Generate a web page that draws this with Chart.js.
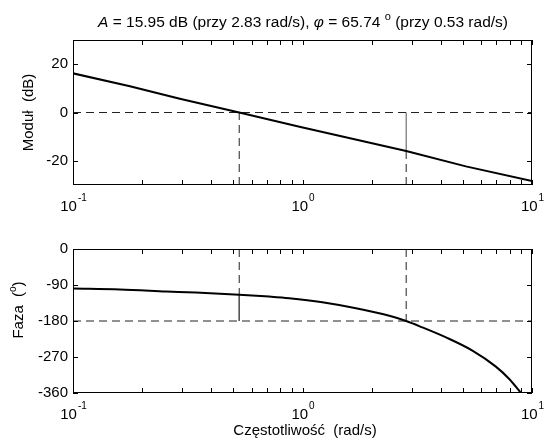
<!DOCTYPE html>
<html>
<head>
<meta charset="utf-8">
<script src="https://cdn.jsdelivr.net/npm/chart.js@4.4.1/dist/chart.umd.min.js"></script>
<style>
body { margin: 0; background: #fff; width: 545px; height: 446px; overflow: hidden; }
canvas { position: absolute; left: 0; }
#magChart { top: 0; }
#phaseChart { top: 225px; }
</style>
</head>
<body>
<canvas id="magChart" width="545" height="225"></canvas>
<canvas id="phaseChart" width="545" height="221"></canvas>
<script>
// values
const freqMag = [0.1, 0.177, 0.292, 0.53, 0.97, 2.83, 5.15, 10];
const magDb = [16.2, 10.9, 5.7, 0, -5.9, -15.95, -22.3, -28.4];

const freqPhase = [0.1, 0.16, 0.255, 0.343, 0.53, 0.716, 0.875, 1.22, 1.71, 2.39, 2.83, 3.33, 4.22, 5.5, 6.96, 7.96, 8.95];
const phaseDeg = [-99, -101, -106, -109, -114.26, -119, -123, -133, -148, -167, -180, -196, -221, -254, -294, -325, -360];

const gmDb = 15.95, gmFreq = 2.83;   // zapas modułu
const pmDeg = 65.74, pmFreq = 0.53;  // zapas fazy

const xDecades = [0.1, 1, 10];
const xExponents = ['-1', '0', '1'];
const magTicks = [-20, 0, 20];
const phaseTicks = [-360, -270, -180, -90, 0];

const FONT = '"Liberation Sans", Arial, sans-serif';
const dash = [8, 5];

const pts = (xs, ys) => xs.map((x, i) => ({ x: x, y: ys[i] }));

// box, inward ticks, x labels with superscript exponents
function frameAndTicks(labelY) {
  return {
    id: 'frameAndTicks',
    afterDraw(chart) {
      const ctx = chart.ctx, a = chart.chartArea;
      const xs = chart.scales.x, ys = chart.scales.y;
      ctx.save();
      ctx.strokeStyle = '#000';
      ctx.lineWidth = 1;
      ctx.strokeRect(Math.round(a.left) + 0.5, Math.round(a.top) + 0.5,
        Math.round(a.right - a.left) - 1, Math.round(a.bottom - a.top) - 1);
      ctx.beginPath();
      for (let d = 0.1; d < 10; d *= 10) {
        for (let m = 1; m <= 10; m++) {
          const px = Math.round(xs.getPixelForValue(d * m)) + 0.5;
          ctx.moveTo(px, a.bottom); ctx.lineTo(px, a.bottom - 5);
          ctx.moveTo(px, a.top); ctx.lineTo(px, a.top + 5);
        }
      }
      ys.ticks.forEach(t => {
        const py = Math.round(ys.getPixelForValue(t.value)) + 0.5;
        ctx.moveTo(a.left, py); ctx.lineTo(a.left + 5, py);
        ctx.moveTo(a.right, py); ctx.lineTo(a.right - 5, py);
      });
      ctx.stroke();

      ctx.fillStyle = '#000';
      ctx.textBaseline = 'alphabetic';
      ctx.textAlign = 'left';
      xDecades.forEach((v, i) => {
        const px = xs.getPixelForValue(v);
        ctx.font = '15px ' + FONT;
        const w1 = ctx.measureText('10').width;
        ctx.font = '10px ' + FONT;
        const w2 = ctx.measureText(xExponents[i]).width;
        const x0 = px - (w1 + w2) / 2;
        ctx.font = '15px ' + FONT;
        ctx.fillText('10', x0, labelY);
        ctx.font = '10px ' + FONT;
        ctx.fillText(xExponents[i], x0 + w1 + 1, labelY - 10);
      });
      ctx.restore();
    }
  };
}

function drawParts(ctx, parts, cx, y) {
  let total = 0;
  parts.forEach(p => { ctx.font = p.font; total += ctx.measureText(p.t).width; });
  let x = cx - total / 2;
  parts.forEach(p => {
    ctx.font = p.font;
    ctx.fillText(p.t, x, y + (p.dy || 0));
    x += ctx.measureText(p.t).width;
  });
}

const titlePlugin = {
  id: 'titleTop',
  afterDraw(chart) {
    const ctx = chart.ctx;
    ctx.save();
    ctx.fillStyle = '#000';
    ctx.textAlign = 'left';
    const f = '15.5px ' + FONT, fi = 'italic 15.5px ' + FONT, fs = '11px ' + FONT;
    drawParts(ctx, [
      { t: 'A', font: fi },
      { t: ' = ' + gmDb.toFixed(2) + ' dB (przy ' + gmFreq.toFixed(2) + ' rad/s), ', font: f },
      { t: 'φ', font: fi },
      { t: ' = ' + pmDeg.toFixed(2) + ' ', font: f },
      { t: 'o', font: fs, dy: -7 },
      { t: ' (przy ' + pmFreq.toFixed(2) + ' rad/s)', font: f }
    ], 303, 27);
    // y label
    ctx.translate(28, (chart.chartArea.top + chart.chartArea.bottom) / 2);
    ctx.rotate(-Math.PI / 2);
    drawParts(ctx, [{ t: 'Moduł  (dB)', font: '15px ' + FONT }], 0, 5);
    ctx.restore();
  }
};

const phaseLabels = {
  id: 'phaseLabels',
  afterDraw(chart) {
    const ctx = chart.ctx;
    ctx.save();
    ctx.fillStyle = '#000';
    ctx.textAlign = 'left';
    drawParts(ctx, [{ t: 'Częstotliwość  (rad/s)', font: '15px ' + FONT }], 305, 210);
    ctx.translate(18, 85);
    ctx.rotate(-Math.PI / 2);
    drawParts(ctx, [
      { t: 'Faza  (', font: '15px ' + FONT },
      { t: 'o', font: '10px ' + FONT, dy: -7 },
      { t: ')', font: '15px ' + FONT }
    ], 0, 5);
    ctx.restore();
  }
};

function baseOptions(yMin, yMax, yTicks, padTop, xHeight) {
  return {
    responsive: false,
    animation: false,
    devicePixelRatio: 1,
    layout: { padding: { top: padTop, right: 13, left: 0, bottom: 0 } },
    plugins: { legend: { display: false }, tooltip: { enabled: false }, title: { display: false } },
    elements: { point: { radius: 0 }, line: { tension: 0 } },
    scales: {
      x: {
        type: 'logarithmic', min: 0.1, max: 10,
        ticks: { display: false },
        grid: { display: false, drawTicks: false },
        border: { display: false },
        afterFit: s => { s.height = xHeight; }
      },
      y: {
        type: 'linear', min: yMin, max: yMax,
        afterBuildTicks: s => { s.ticks = yTicks.map(v => ({ value: v })); },
        ticks: { color: '#000', padding: 5, font: { family: FONT, size: 15 } },
        grid: { display: false, drawTicks: false },
        border: { display: false },
        afterFit: s => { s.width = 73; }
      }
    }
  };
}

const solid = { borderColor: '#555', borderWidth: 1, pointRadius: 0, fill: false };
const dashed = { borderColor: '#222', borderWidth: 1, borderDash: dash, pointRadius: 0, fill: false };

new Chart(document.getElementById('magChart'), {
  type: 'line',
  data: {
    datasets: [
      { data: pts(freqMag, magDb), borderColor: '#000', borderWidth: 2, pointRadius: 0, fill: false },
      Object.assign({ data: [{ x: 0.1, y: 0 }, { x: 10, y: 0 }] }, dashed),
      Object.assign({ data: [{ x: pmFreq, y: -30 }, { x: pmFreq, y: 0 }] }, dashed),
      Object.assign({ data: [{ x: gmFreq, y: -30 }, { x: gmFreq, y: -gmDb }] }, dashed),
      Object.assign({ data: [{ x: gmFreq, y: -gmDb }, { x: gmFreq, y: 0 }] }, solid)
    ]
  },
  options: baseOptions(-30, 30, magTicks, 40, 40),
  plugins: [frameAndTicks(211), titlePlugin]
});

new Chart(document.getElementById('phaseChart'), {
  type: 'line',
  data: {
    datasets: [
      { data: pts(freqPhase, phaseDeg), borderColor: '#000', borderWidth: 2, pointRadius: 0, fill: false, cubicInterpolationMode: 'monotone' },
      Object.assign({ data: [{ x: 0.1, y: -180 }, { x: 10, y: -180 }] }, dashed),
      Object.assign({ data: [{ x: pmFreq, y: 0 }, { x: pmFreq, y: pmDeg - 180 }] }, dashed),
      Object.assign({ data: [{ x: pmFreq, y: pmDeg - 180 }, { x: pmFreq, y: -180 }] }, solid),
      Object.assign({ data: [{ x: gmFreq, y: 0 }, { x: gmFreq, y: -180 }] }, dashed)
    ]
  },
  options: baseOptions(-360, 0, phaseTicks, 24, 53),
  plugins: [frameAndTicks(194), phaseLabels]
});
</script>
</body>
</html>
